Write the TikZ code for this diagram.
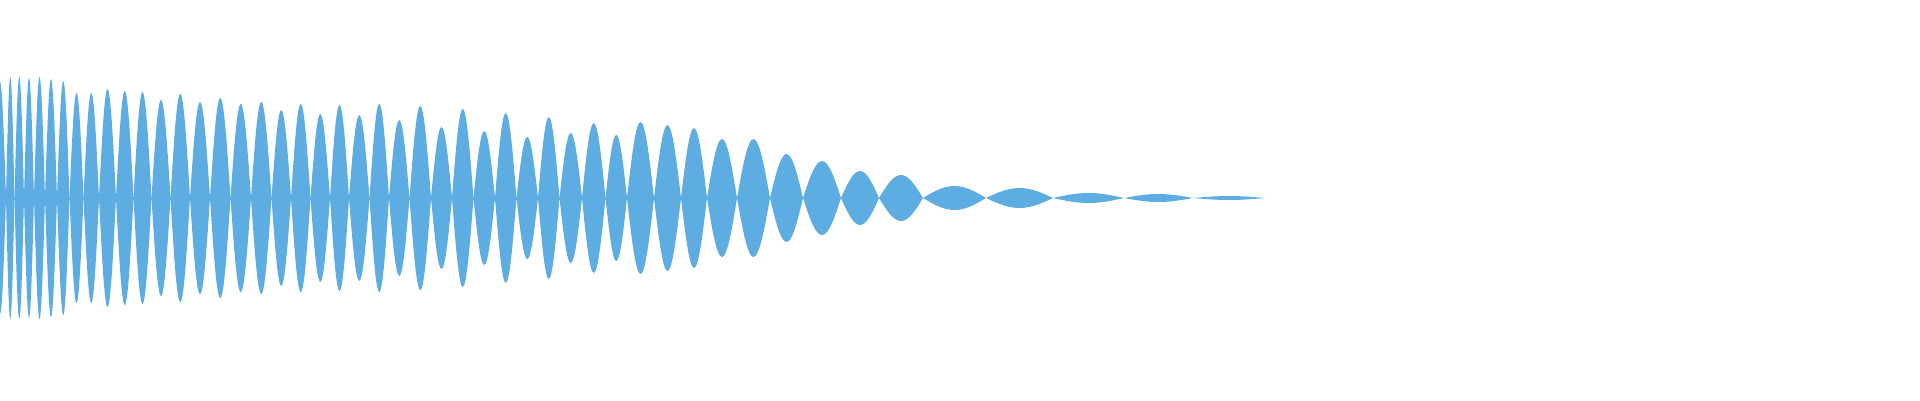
\documentclass[tikz,border=0pt]{standalone}
\definecolor{wave}{RGB}{93,173,226}
\begin{document}
\begin{tikzpicture}[x=1pt,y=-1pt,lobe/.style={fill=wave,draw=wave,line width=0.6pt}]
\useasboundingbox (0,0) rectangle (1920,400);
\clip (0,0) rectangle (1920,400);
\foreach \s/\e/\a in {-6/6/116,6/14.5/121,14.5/24/121,24/34/120,34/45/121,45/57/119,57/69.5/117,69.5/83.5/105,83.5/99/105,99/116/109,116/133.5/107,133.5/151.5/106,151.5/170.5/98,170.5/190/104,190/210/96,210/230.5/100,230.5/251/94,251/271.5/96,271.5/291/88,291/310.5/94,310.5/330/84,330/349/93,349/369.5/83,369.5/389/94,389/409.5/78,409.5/431/92,431/452/71,452/473.5/89,473.5/495/67,495/516.5/85,516.5/538/61,538/559.5/81,559.5/582/65,582/605.5/75,605.5/627/63,627/654/76,654/681/73,681/707/70,707/737/59,737/770/59,770/803/44,803/841/37,841/879/27,879/923/23,923/986/12,986/1053/10,1053/1124/5,1124/1193/4,1193/1265/2}{
  \pgfmathsetmacro\m{(\s+\e)/2}
  \fill[wave] (\s,198) sin (\m,198-\a) cos (\e,198) sin (\m,198+\a) cos (\s,198) -- cycle;
}
\fill[wave] (0,196.5) rectangle (640,199.5);
\end{tikzpicture}
\end{document}
